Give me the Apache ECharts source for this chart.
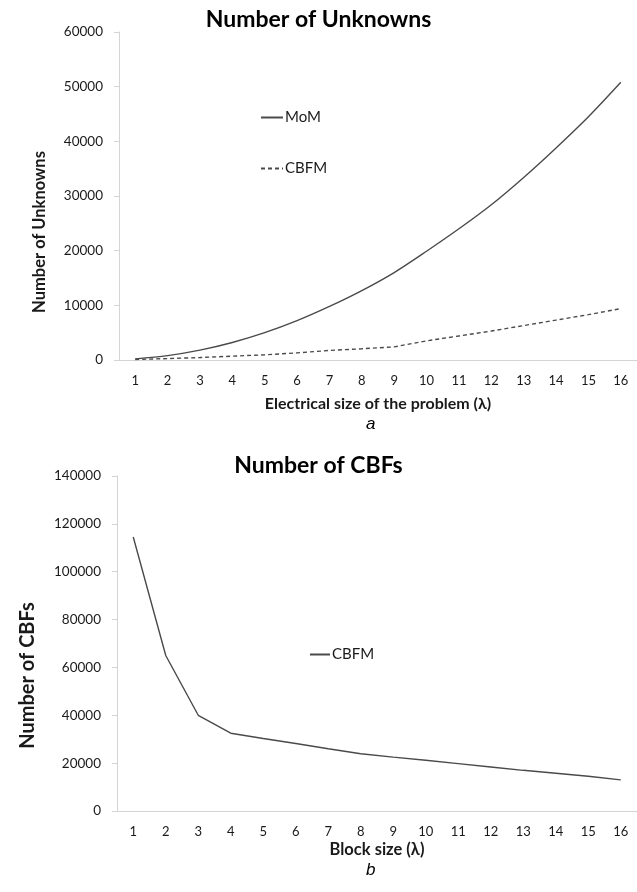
<!DOCTYPE html>
<html>
<head>
<meta charset="utf-8">
<script src="https://cdn.jsdelivr.net/npm/echarts@6/dist/echarts.min.js"></script>
<style>
  html, body { margin: 0; padding: 0; background: #fff; }
  #chart { width: 637px; height: 892px; }
</style>
</head>
<body>
<div id="chart"></div>
<script>
// Panel a: problem size vs. number of unknowns
const sizeLabels = ['1','2','3','4','5','6','7','8','9','10','11','12','13','14','15','16'];
const momUnknowns = [200, 800, 1800, 3200, 5000, 7200, 9800, 12700, 16000, 19900, 24000, 28400, 33400, 38800, 44500, 50800];
const cbfmUnknowns = [100, 250, 450, 700, 950, 1300, 1750, 2050, 2400, 3500, 4400, 5300, 6300, 7300, 8300, 9400];

// Panel b: block size vs. number of CBFs
const blockLabels = ['1','2','3','4','5','6','7','8','9','10','11','12','13','14','15','16'];
const cbfCounts = [114500, 65000, 40000, 32500, 30300, 28200, 26000, 23900, 22500, 21200, 19800, 18400, 17000, 15800, 14500, 13000];

const FONT = 'Lato, "Open Sans", sans-serif';
const axisGrey = '#d4d4d4';
const lineGrey = '#4a4a4a';
const textDark = '#1a1a1a';

const chart = echarts.init(document.getElementById('chart'), null, { renderer: 'canvas' });

const catAxis = (gridIndex, labels, title, titleSize, gap) => ({
  type: 'category',
  gridIndex,
  data: labels,
  boundaryGap: true,
  axisLine: { lineStyle: { color: axisGrey, width: 1 } },
  axisTick: { show: false },
  axisLabel: { color: textDark, fontFamily: FONT, fontSize: 13, margin: 14 },
  name: title,
  nameLocation: 'middle',
  nameGap: gap,
  nameTextStyle: { color: textDark, fontFamily: FONT, fontSize: titleSize, fontWeight: 'bold' }
});

// Axis titles sit a little below the plot centre; the right padding pushes the rotated text down
const valAxis = (gridIndex, max, interval, title, titleSize, gap, shiftDown) => ({
  type: 'value',
  gridIndex,
  min: 0,
  max,
  interval,
  splitLine: { show: false },
  axisLine: { show: true, lineStyle: { color: axisGrey, width: 1 } },
  axisTick: { show: true, length: 5, lineStyle: { color: axisGrey } },
  axisLabel: { color: textDark, fontFamily: FONT, fontSize: 13.5, margin: 16, formatter: v => String(v) },
  name: title,
  nameLocation: 'middle',
  nameGap: gap,
  nameTextStyle: { color: textDark, fontFamily: FONT, fontSize: titleSize, fontWeight: 'bold',
                   padding: [0, shiftDown * 2, 0, 0] }
});

const legendText = { fontFamily: FONT, fontSize: 15, color: textDark, padding: [0, 0, 0, -3] };

chart.setOption({
  animation: false,
  backgroundColor: '#fff',
  title: [
    { text: 'Number of Unknowns', left: 'center', top: 3,
      textStyle: { fontFamily: FONT, fontSize: 23, fontWeight: 'bold', color: '#000' } },
    { text: 'Number of CBFs', left: 'center', top: 449,
      textStyle: { fontFamily: FONT, fontSize: 23, fontWeight: 'bold', color: '#000' } }
  ],
  grid: [
    { left: 119, top: 32, width: 524, height: 328 },
    { left: 117, top: 476, width: 526, height: 335 }
  ],
  legend: [
    {
      data: ['MoM', 'CBFM'],
      orient: 'vertical', left: 255, top: 105, itemGap: 36,
      itemWidth: 22, itemHeight: 10,
      itemStyle: { opacity: 0 },
      textStyle: legendText
    },
    {
      data: ['CBFM (blocks)'],
      orient: 'vertical', left: 304, top: 642,
      itemWidth: 20, itemHeight: 10,
      itemStyle: { opacity: 0 },
      formatter: () => 'CBFM',
      textStyle: legendText
    }
  ],
  xAxis: [
    catAxis(0, sizeLabels, 'Electrical size of the problem (λ)', 16, 36),
    catAxis(1, blockLabels, 'Block size (λ)', 16.5, 30)
  ],
  yAxis: [
    valAxis(0, 60000, 10000, 'Number of Unknowns', 16.5, 71, 36),
    valAxis(1, 140000, 20000, 'Number of CBFs', 20, 79, 32)
  ],
  series: [
    { name: 'MoM', type: 'line', xAxisIndex: 0, yAxisIndex: 0, data: momUnknowns,
      smooth: 0.3, symbol: 'none', lineStyle: { color: lineGrey, width: 1.4 }, itemStyle: { color: lineGrey } },
    { name: 'CBFM', type: 'line', xAxisIndex: 0, yAxisIndex: 0, data: cbfmUnknowns,
      symbol: 'none', lineStyle: { color: lineGrey, width: 1.4, type: [4, 3] }, itemStyle: { color: lineGrey } },
    { name: 'CBFM (blocks)', type: 'line', xAxisIndex: 1, yAxisIndex: 1, data: cbfCounts,
      symbol: 'none', lineStyle: { color: lineGrey, width: 1.4 }, itemStyle: { color: lineGrey } }
  ],
  graphic: [
    { type: 'text', left: 366, top: 416,
      style: { text: 'a', fontFamily: '"Liberation Sans", Arial, sans-serif', fontStyle: 'italic', fontSize: 17, fill: '#000' } },
    { type: 'text', left: 366, top: 862,
      style: { text: 'b', fontFamily: '"Liberation Sans", Arial, sans-serif', fontStyle: 'italic', fontSize: 17, fill: '#000' } }
  ]
});
</script>
</body>
</html>
